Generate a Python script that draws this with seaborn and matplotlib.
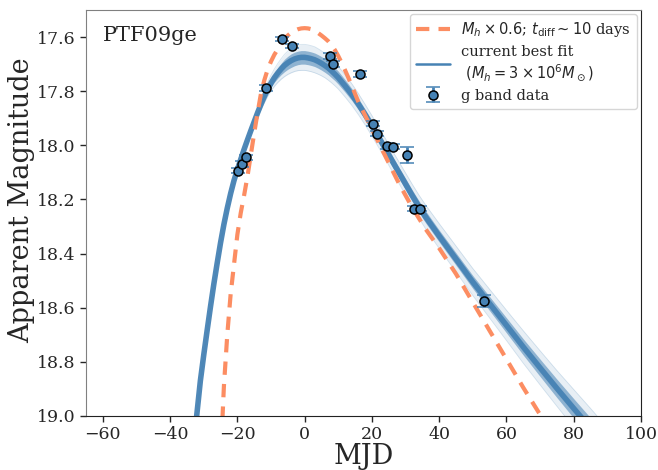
import numpy as np
import pandas as pd
import matplotlib
matplotlib.use("Agg")
import matplotlib.pyplot as plt
import seaborn as sns
from matplotlib.lines import Line2D

sns.set_style("ticks")
plt.rcParams["font.family"] = ["DejaVu Serif"]
plt.rcParams["mathtext.fontset"] = "dejavusans"

# g-band photometry of PTF09ge
obs_mjd = [-19.7, -18.6, -17.5, -11.5, -6.8, -3.7, 7.5, 8.4, 16.4, 20.2, 21.5,
           24.4, 26.4, 30.4, 32.4, 34.3, 53.4]
obs_mag = [18.093, 18.069, 18.044, 17.788, 17.607, 17.632, 17.670, 17.699, 17.737,
           17.920, 17.957, 18.003, 18.005, 18.036, 18.234, 18.234, 18.575]
obs_err = [0.010, 0.010, 0.010, 0.010, 0.008, 0.008, 0.010, 0.010, 0.010, 0.010,
           0.010, 0.010, 0.010, 0.028, 0.010, 0.010, 0.022]

# best-fit model ensemble: median track with inner / outer spread
fit_mjd = [-34, -33, -32.1, -31, -30, -29, -28, -27, -26, -25, -24, -23, -22, -21,
           -20, -19, -18, -17, -16, -15, -14, -13, -12, -11, -10, -9, -8, -7, -6,
           -5, -4, -3, -2, -1, 0, 1, 2, 3, 4, 5, 6, 7, 8, 9, 10, 12, 14, 16, 18,
           20, 22, 24, 26, 28, 30, 32, 34, 36, 38, 40, 45, 50, 55, 60, 65, 70, 75,
           80, 85, 90]
fit_mag = [19.24, 19.11, 19.00, 18.87, 18.775, 18.685, 18.597, 18.513, 18.435, 18.36,
           18.292, 18.232, 18.178, 18.13, 18.09, 18.052, 18.015, 17.98, 17.946, 17.913,
           17.88, 17.849, 17.82, 17.793, 17.77, 17.75, 17.733, 17.718, 17.705, 17.695,
           17.687, 17.681, 17.677, 17.675, 17.675, 17.677, 17.68, 17.684, 17.69,
           17.697, 17.705, 17.714, 17.725, 17.737, 17.75, 17.78, 17.812, 17.848,
           17.887, 17.928, 17.97, 18.013, 18.057, 18.10, 18.143, 18.186, 18.227,
           18.265, 18.30, 18.335, 18.42, 18.505, 18.585, 18.665, 18.745, 18.822,
           18.898, 18.972, 19.045, 19.12]
fit_core = [0.004, 0.004, 0.004, 0.004, 0.004, 0.004, 0.004, 0.004, 0.004, 0.004,
            0.004, 0.004, 0.004, 0.004, 0.005, 0.005, 0.005, 0.006, 0.006, 0.007,
            0.008, 0.009, 0.011, 0.013, 0.015, 0.017, 0.019, 0.021, 0.023, 0.024,
            0.025, 0.025, 0.025, 0.025, 0.025, 0.025, 0.025, 0.025, 0.025, 0.025,
            0.025, 0.025, 0.025, 0.024, 0.024, 0.023, 0.022, 0.021, 0.02, 0.02,
            0.02, 0.02, 0.02, 0.02, 0.021, 0.021, 0.022, 0.022, 0.022, 0.022, 0.023,
            0.024, 0.026, 0.028, 0.03, 0.032, 0.034, 0.036, 0.038, 0.04]
fit_outer = [0.008, 0.008, 0.008, 0.008, 0.008, 0.008, 0.008, 0.008, 0.008, 0.008,
             0.008, 0.008, 0.009, 0.009, 0.01, 0.011, 0.012, 0.013, 0.014, 0.016,
             0.018, 0.02, 0.023, 0.026, 0.029, 0.032, 0.035, 0.038, 0.041, 0.043,
             0.045, 0.046, 0.047, 0.048, 0.048, 0.048, 0.048, 0.048, 0.047, 0.046,
             0.045, 0.045, 0.044, 0.043, 0.042, 0.041, 0.04, 0.039, 0.038, 0.038,
             0.038, 0.038, 0.039, 0.04, 0.041, 0.042, 0.043, 0.044, 0.045, 0.046,
             0.048, 0.05, 0.053, 0.056, 0.06, 0.063, 0.066, 0.07, 0.073, 0.076]

# alternative model: 0.6 x black-hole mass, t_diff ~ 10 days
alt_mjd = [-25, -24.4, -24, -23, -22, -21, -20, -19, -18, -17, -16, -15, -14, -13,
           -12, -11, -10, -9, -8, -7, -6, -5, -4, -3, -2, -1, 0, 1, 2, 3, 4, 5, 6,
           7, 8, 9, 10, 11, 12, 13, 14, 16, 18, 20, 22, 24, 26, 28, 30, 32, 34, 36,
           38, 40, 45, 50, 55, 60, 65, 70, 72]
alt_mag = [19.18, 19.0, 18.89, 18.70, 18.55, 18.44, 18.33, 18.25, 18.185, 18.115,
           18.035, 17.955, 17.88, 17.81, 17.76, 17.72, 17.69, 17.665, 17.645, 17.625,
           17.607, 17.594, 17.584, 17.576, 17.571, 17.568, 17.567, 17.568, 17.571,
           17.577, 17.585, 17.594, 17.604, 17.615, 17.63, 17.648, 17.67, 17.695,
           17.722, 17.75, 17.78, 17.84, 17.89, 17.94, 17.99, 18.04, 18.09, 18.14,
           18.185, 18.23, 18.27, 18.31, 18.345, 18.38, 18.475, 18.58, 18.685, 18.79,
           18.895, 18.995, 19.04]

blue = "#4682b4"
orange = "#fc8d62"

fig = plt.figure(figsize=(6.58, 4.70), dpi=100)
ax = fig.add_axes([86 / 658, 1 - 416 / 470, (641 - 86) / 658, (416 - 10) / 470])

fit = pd.DataFrame({"mjd": fit_mjd, "mag": fit_mag,
                    "core": fit_core, "outer": fit_outer})
ax.fill_between(fit["mjd"], fit["mag"] - fit["outer"], fit["mag"] + fit["outer"],
                color=blue, alpha=0.12, lw=0)
ax.fill_between(fit["mjd"], fit["mag"] - fit["core"], fit["mag"] + fit["core"],
                color=blue, alpha=0.55, lw=0)
for edge in (fit["mag"] - fit["outer"], fit["mag"] + fit["outer"]):
    ax.plot(fit["mjd"], edge, color=blue, lw=0.6, alpha=0.22)
sns.lineplot(data=fit, x="mjd", y="mag", ax=ax, color=blue, lw=4, alpha=0.95,
             sort=False, estimator=None)

alt = pd.DataFrame({"mjd": alt_mjd, "mag": alt_mag})
sns.lineplot(data=alt, x="mjd", y="mag", ax=ax, color=orange, lw=3,
             sort=False, estimator=None, linestyle=(0, (3.2, 2.2)))

eb = ax.errorbar(obs_mjd, obs_mag, yerr=obs_err, fmt="o", color=blue, ecolor=blue,
                 elinewidth=2, capsize=5, capthick=1.5, markersize=6.5,
                 markerfacecolor=blue, markeredgecolor="black", markeredgewidth=1.1,
                 zorder=5)

ax.set_xlim(-65, 100)
ax.set_ylim(19.0, 17.5)
ax.set_xticks(np.arange(-60, 101, 20))
ax.set_yticks(np.round(np.arange(17.6, 19.01, 0.2), 1))
ax.set_xlabel("MJD", fontsize=19.5, labelpad=0)
ax.set_ylabel("Apparent Magnitude", fontsize=19.5)
ax.yaxis.set_label_coords(-0.092, 0.532)
ax.tick_params(axis="both", labelsize=12.5, direction="out", length=4, width=1)
for side in ("left", "top"):
    ax.spines[side].set_color("#808080")
for side in ("bottom", "right"):
    ax.spines[side].set_color("#222222")

ax.text(0.03, 0.96, "PTF09ge", transform=ax.transAxes, fontsize=15,
        ha="left", va="top")

h_alt = Line2D([], [], color=orange, lw=3, linestyle=(0, (3.2, 2.2)))
h_fit = Line2D([], [], color=blue, lw=1.8)
ax.legend([h_alt, h_fit, eb],
          [r"$M_h \times 0.6$; $t_{\rm diff} \sim 10$ days",
           "current best fit\n" + r" $(M_h = 3 \times 10^6 M_\odot)$",
           "g band data"],
          loc="upper right", fontsize=10.5, frameon=True, handlelength=2.3,
          borderaxespad=0.3, labelspacing=0.4)

fig.savefig("out.png", dpi=100)
